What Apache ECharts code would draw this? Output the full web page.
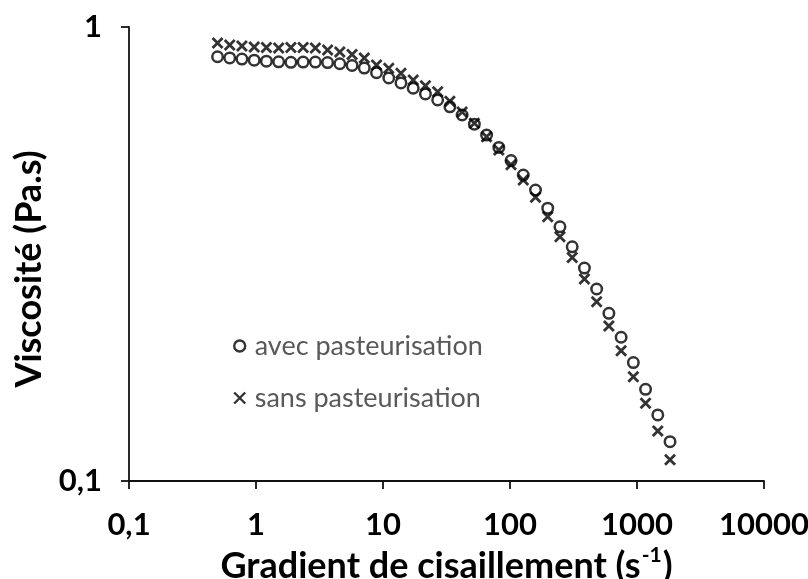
<!DOCTYPE html>
<html><head><meta charset="utf-8">
<script src="https://cdn.jsdelivr.net/npm/echarts@6/dist/echarts.min.js"></script>
<style>html,body{margin:0;padding:0;background:#fff}#c{width:808px;height:579px}</style>
</head><body><div id="c"></div>
<script>
// Gradient de cisaillement (s-1)
const shearRate = [0.498, 0.621, 0.775, 0.968, 1.208, 1.508, 1.883, 2.350, 2.934, 3.662,
  4.571, 5.706, 7.122, 8.890, 11.10, 13.85, 17.29, 21.58, 26.94, 33.63,
  41.98, 52.40, 65.41, 81.65, 101.9, 127.2, 158.8, 198.2, 247.4, 308.9,
  385.5, 481.2, 600.7, 749.9, 936.0, 1168, 1458, 1820];
// Viscosité (Pa.s)
const avecPasteurisation = [0.860, 0.855, 0.850, 0.845, 0.841, 0.838, 0.836, 0.837, 0.837, 0.835,
  0.830, 0.823, 0.812, 0.793, 0.772, 0.753, 0.733, 0.712, 0.691, 0.667,
  0.640, 0.611, 0.578, 0.543, 0.508, 0.472, 0.4375, 0.399, 0.363, 0.328,
  0.2945, 0.2648, 0.2341, 0.2073, 0.1823, 0.1592, 0.1398, 0.1221];
const sansPasteurisation = [0.922, 0.913, 0.908, 0.904, 0.901, 0.899, 0.901, 0.901, 0.899, 0.890,
  0.881, 0.870, 0.855, 0.825, 0.811, 0.791, 0.764, 0.742, 0.720, 0.686,
  0.650, 0.614, 0.573, 0.536, 0.497, 0.460, 0.4216, 0.382, 0.345, 0.3106,
  0.2786, 0.2482, 0.2195, 0.1936, 0.1697, 0.1483, 0.1288, 0.1114];
const seriesNames = ['avec pasteurisation', 'sans pasteurisation'];
const xTickLabels = {0.1: '0,1', 1: '1', 10: '10', 100: '100', 1000: '1000', 10000: '10000'};
const yTickLabels = {0.1: '0,1', 1: '1'};

const FONT = 'Lato';
function fmt(map) {
  return function (v) {
    for (const k in map) { if (Math.abs(Math.log10(v) - Math.log10(+k)) < 1e-6) return map[k]; }
    return String(v).replace('.', ',');
  };
}
const chart = echarts.init(document.getElementById('c'), null, {renderer: 'canvas'});
const axisCommon = {
  type: 'log', logBase: 10,
  axisLine: {show: true, onZero: false, lineStyle: {color: '#111', width: 1.8}},
  axisTick: {show: true, length: 8, lineStyle: {color: '#111', width: 1.8}},
  splitLine: {show: false}, minorTick: {show: false}, minorSplitLine: {show: false}
};
chart.setOption({
  animation: false,
  backgroundColor: '#fff',
  grid: {left: 129, right: 44, top: 27, bottom: 98, containLabel: false, outerBoundsMode: 'none'},
  legend: {
    orient: 'vertical', left: 228, top: 326, itemGap: 22, itemWidth: 12, itemHeight: 11,
    data: seriesNames,
    itemStyle: {borderWidth: 2.4},
    textStyle: {fontFamily: FONT, fontSize: 27, lineHeight: 30, color: '#595959', padding: [0, 0, 0, 4]},
    selectedMode: false
  },
  xAxis: Object.assign({}, axisCommon, {
    min: 0.1, max: 10000,
    axisLabel: {margin: 28, formatter: fmt(xTickLabels), fontFamily: FONT, fontSize: 31, fontWeight: 'bold', color: '#000'},
    name: '{n|Gradient de cisaillement (s}{s|-1}{n|)}',
    nameLocation: 'middle', nameGap: 51,
    nameTextStyle: {
      fontFamily: FONT, fontSize: 36, fontWeight: 'bold', color: '#000',
      rich: {
        n: {fontFamily: FONT, fontSize: 36, fontWeight: 'bold', color: '#000', lineHeight: 42},
        s: {fontFamily: FONT, fontSize: 21, fontWeight: 'bold', color: '#000', verticalAlign: 'top', lineHeight: 42, padding: [0, 1, 12, 1]}
      }
    }
  }),
  yAxis: Object.assign({}, axisCommon, {
    min: 0.1, max: 1,
    axisLabel: {margin: 27, formatter: fmt(yTickLabels), fontFamily: FONT, fontSize: 31, fontWeight: 'bold', color: '#000'},
    name: 'Viscosité (Pa.s)', nameLocation: 'middle', nameGap: 80,
    nameTextStyle: {fontFamily: FONT, fontSize: 36, fontWeight: 'bold', color: '#000', padding: [0, 30, 0, 0]}
  }),
  series: [
    {
      name: seriesNames[0], type: 'scatter', symbol: 'circle', symbolSize: 10.5,
      itemStyle: {color: 'rgba(0,0,0,0)', borderColor: '#000', borderWidth: 2.5},
      emphasis: {disabled: true},
      data: shearRate.map((x, i) => [x, avecPasteurisation[i]])
    },
    {
      name: seriesNames[1], type: 'scatter', symbol: 'path://M0,0L10,10M10,0L0,10', symbolSize: 10,
      itemStyle: {color: 'rgba(0,0,0,0)', borderColor: '#000', borderWidth: 2.8},
      emphasis: {disabled: true},
      data: shearRate.map((x, i) => [x, sansPasteurisation[i]])
    }
  ]
});
</script></body></html>
